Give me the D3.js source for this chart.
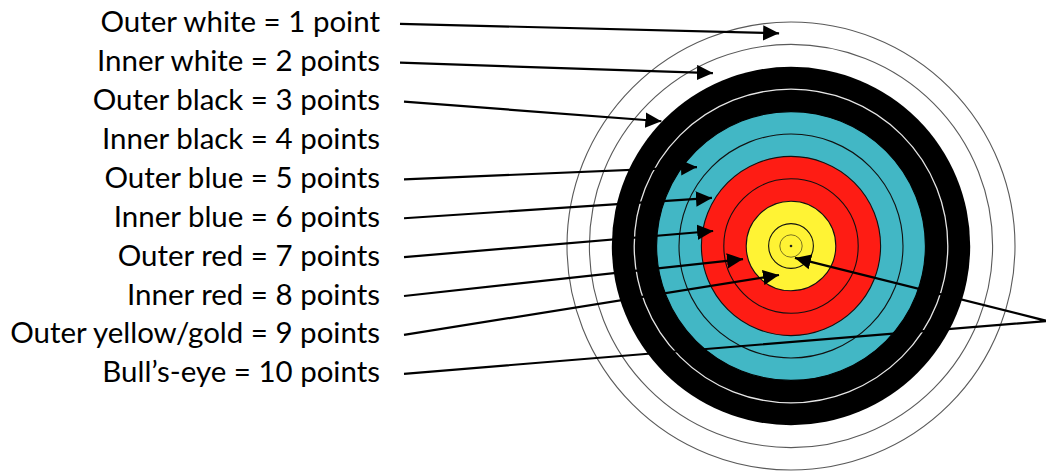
<!DOCTYPE html>
<html>
<head>
<meta charset="utf-8">
<script src="https://cdn.jsdelivr.net/npm/d3@7"></script>
<style>
  html, body { margin: 0; padding: 0; background: #fff; }
  svg { display: block; }
</style>
</head>
<body>
<svg id="chart" width="1046" height="472"></svg>
<script>
// ---- data ----
const labels = [
  "Outer white = 1 point",
  "Inner white = 2 points",
  "Outer black = 3 points",
  "Inner black = 4 points",
  "Outer blue = 5 points",
  "Inner blue = 6 points",
  "Outer red = 7 points",
  "Inner red = 8 points",
  "Outer yellow/gold = 9 points",
  "Bull\u2019s-eye = 10 points"
];
const points = [1, 2, 3, 4, 5, 6, 7, 8, 9, 10];
const ringColors = ["#ffffff", "#ffffff", "#000000", "#000000", "#42b7c5", "#42b7c5", "#fe1c14", "#fe1c14", "#fff334", "#fff334"];
const ringStrokes = ["#5a5a5a", "#5a5a5a", "none", "#e6e6e6", "#000000", "#111111", "#111111", "#111111", "#111111", "#111111"];
const hasArrow = [true, true, true, false, true, true, true, true, true, true];

// ---- layout ----
const svg = d3.select("#chart");
const W = 1046, H = 472;
const cx = 791, cy = 246;
const r = d3.scaleLinear().domain([11, 1]).range([0, 224]); // ring boundary radius by score
const yBase = d3.scaleLinear().domain([0, 9]).range([32.3, 382.3]);

// arrow tip placement: [angle in degrees, radial position in score units]
const tipPolar = [
  [-93.2, 1.49], [-114.3, 2.53], [-136.1, 2.97], null,
  [-140.0, 5.52], [-148.7, 6.87], [-169.1, 7.46],
  [164.8, 8.78], [112.5, 9.6], [71.6, 10.44]
];
function tip(i) {
  const [a, s] = tipPolar[i];
  const rad = a * Math.PI / 180, rr = r(s);
  return [cx + rr * Math.cos(rad), cy + rr * Math.sin(rad)];
}

// ---- target ----
const gT = svg.append("g");
gT.selectAll("circle.ring")
  .data(points)
  .join("circle")
  .attr("class", "ring")
  .attr("cx", cx).attr("cy", cy)
  .attr("r", d => r(d))
  .attr("fill", (d, i) => ringColors[i])
  .attr("stroke", (d, i) => ringStrokes[i])
  .attr("stroke-width", (d, i) => i === 3 ? 1.3 : 1.1);
// inner ten (X ring)
gT.append("circle").attr("cx", cx).attr("cy", cy).attr("r", r(10.5))
  .attr("fill", "none").attr("stroke", "#7d7420").attr("stroke-width", 1);
gT.append("circle").attr("cx", cx).attr("cy", cy).attr("r", 1.3).attr("fill", "#222");

// ---- labels ----
const gL = svg.append("g");
const texts = gL.selectAll("text")
  .data(labels)
  .join("text")
  .attr("x", 380)
  .attr("y", (d, i) => yBase(i))
  .attr("text-anchor", "end")
  .attr("font-family", "Lato, 'Open Sans', sans-serif")
  .attr("font-size", 26)
  .attr("fill", "#000")
  .text(d => d);
// fit font size so the longest label spans the reference width
const longest = texts.nodes()[8];
const w0 = longest.getComputedTextLength();
texts.attr("font-size", 26 * 370 / w0);

// ---- arrows ----
const defs = svg.append("defs");
defs.append("marker")
  .attr("id", "ah")
  .attr("markerUnits", "userSpaceOnUse")
  .attr("markerWidth", 16).attr("markerHeight", 16)
  .attr("viewBox", "0 -7.5 15 15")
  .attr("refX", 15).attr("refY", 0)
  .attr("orient", "auto")
  .append("path")
  .attr("d", "M0,-7.2L15,0L0,7.2Z")
  .attr("fill", "#000");

const gA = svg.append("g");
const arrowData = points.map((p, i) => i).filter(i => hasArrow[i]);
const line = d3.line();
gA.selectAll("path")
  .data(arrowData)
  .join("path")
  .attr("d", i => {
    const start = [i < 2 ? 400 : 404, yBase(i) - 8.5];
    const end = tip(i);
    if (i === 9) return line([start, [1047, 321], end]);
    return line([start, end]);
  })
  .attr("fill", "none")
  .attr("stroke", "#000")
  .attr("stroke-width", 2.2)
  .attr("stroke-linejoin", "miter")
  .attr("marker-end", "url(#ah)");
</script>
</body>
</html>
